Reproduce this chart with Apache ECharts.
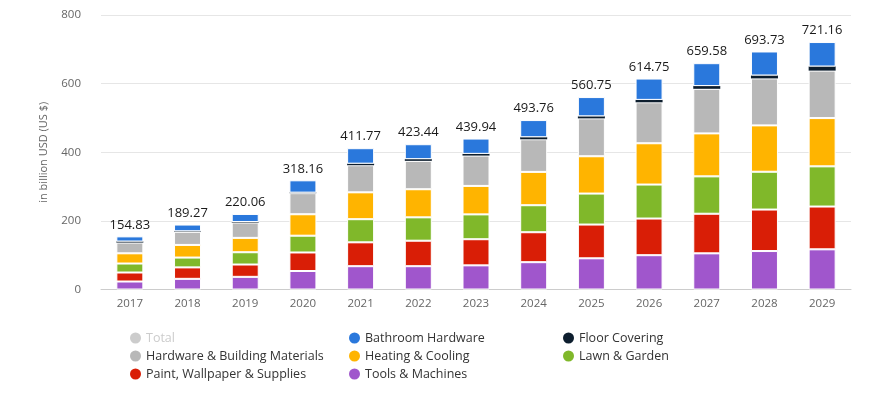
<!DOCTYPE html>
<html>
<head>
<meta charset="utf-8">
<script src="https://cdn.jsdelivr.net/npm/echarts@6/dist/echarts.min.js"></script>
<style>
html,body{margin:0;padding:0;background:#fff;}
#chart{width:878px;height:394px;}
</style>
</head>
<body>
<div id="chart"></div>
<script>
const years = ['2017','2018','2019','2020','2021','2022','2023','2024','2025','2026','2027','2028','2029'];
const totals = [154.83, 189.27, 220.06, 318.16, 411.77, 423.44, 439.94, 493.76, 560.75, 614.75, 659.58, 693.73, 721.16];
const toolsMachines = [23.3, 31.1, 36.9, 53.9, 67.9, 67.9, 70.4, 79.6, 90.9, 100.0, 105.4, 112.1, 117.1];
const paintWallpaper = [26.2, 33.3, 35.9, 54.0, 69.6, 74.3, 76.1, 87.3, 98.4, 106.8, 115.4, 120.9, 124.7];
const lawnGarden = [26.2, 28.7, 35.8, 48.9, 67.4, 68.1, 72.4, 78.7, 90.3, 99.1, 108.9, 110.2, 117.1];
const heatingCooling = [29.8, 36.8, 41.9, 62.5, 78.3, 81.9, 83.0, 97.2, 108.7, 120.3, 125.3, 135.1, 140.7];
const hardwareBuilding = [31.3, 38.3, 44.7, 61.5, 79.0, 82.7, 88.4, 95.0, 110.4, 119.4, 129.9, 136.9, 138.3];
const floorCovering = [3.0, 1.5, 1.5, 1.5, 4.5, 5.0, 5.0, 6.0, 6.0, 7.0, 8.0, 8.5, 12.0];
const bathroomHardware = [15.0, 19.6, 23.4, 35.9, 45.1, 43.5, 44.6, 50.0, 56.1, 62.2, 66.7, 70.0, 71.3];
const yTicks = [0, 200, 400, 600, 800];

const FONT = "'Open Sans', 'Noto Sans', sans-serif";
const chart = echarts.init(document.getElementById('chart'));

function seg(name, data, color, extra, bw) {
  return Object.assign({
    name: name, type: 'bar', stack: 'market', data: data, barWidth: 27,
    itemStyle: { color: color, borderColor: '#ffffff', borderWidth: bw === undefined ? 1 : bw },
    emphasis: { disabled: true }
  }, extra || {});
}

const legendText = { color: '#333', fontSize: 12.5, fontFamily: FONT, lineHeight: 18 };
function legend(left, data) {
  return {
    orient: 'vertical', left: left, top: 329, padding: 0, icon: 'circle',
    itemWidth: 11, itemHeight: 11, itemGap: 0,
    itemStyle: { borderWidth: 0 },
    inactiveColor: '#cccccc', inactiveBorderWidth: 0,
    textStyle: legendText, data: data,
    selected: { 'Total': false }
  };
}

chart.setOption({
  animation: false,
  textStyle: { fontFamily: FONT },
  grid: { left: 101, right: 27, top: 15, bottom: 104.5, containLabel: false },
  legend: [
    legend(130, ['Total', 'Hardware & Building Materials', 'Paint, Wallpaper & Supplies']),
    legend(349, ['Bathroom Hardware', 'Heating & Cooling', 'Tools & Machines']),
    legend(563, ['Floor Covering', 'Lawn & Garden'])
  ],
  xAxis: {
    type: 'category', data: years,
    axisLine: { lineStyle: { color: '#cccccc' } },
    axisTick: { alignWithLabel: true, length: 4, lineStyle: { color: '#cccccc' } },
    axisLabel: { color: '#666', fontSize: 11.5, margin: 8, fontFamily: FONT }
  },
  yAxis: {
    type: 'value', min: yTicks[0], max: yTicks[yTicks.length - 1], interval: 200,
    name: 'in billion USD (US $)', nameLocation: 'middle', nameGap: 52,
    nameTextStyle: { color: '#666', fontSize: 11, fontFamily: FONT },
    axisLine: { show: false }, axisTick: { show: false },
    axisLabel: { color: '#666', fontSize: 11.5, margin: 20, fontFamily: FONT },
    splitLine: { lineStyle: { color: '#e6e6e6' } }
  },
  series: [
    { name: 'Total', type: 'bar', stack: 'total', data: totals, barWidth: 27, itemStyle: { color: '#cccccc' } },
    seg('Tools & Machines', toolsMachines, '#a056cc'),
    seg('Paint, Wallpaper & Supplies', paintWallpaper, '#d91e06'),
    seg('Lawn & Garden', lawnGarden, '#80b82a'),
    seg('Heating & Cooling', heatingCooling, '#ffb400'),
    seg('Hardware & Building Materials', hardwareBuilding, '#b8b8b8'),
    seg('Floor Covering', floorCovering, '#0d1e2e', null, 0),
    seg('Bathroom Hardware', bathroomHardware, '#2a78dc', {
      label: {
        show: true, position: 'top', distance: 5,
        color: '#1a1a1a', fontSize: 13, fontFamily: FONT,
        formatter: function (p) { return totals[p.dataIndex].toFixed(2); }
      }
    })
  ]
});
</script>
</body>
</html>
